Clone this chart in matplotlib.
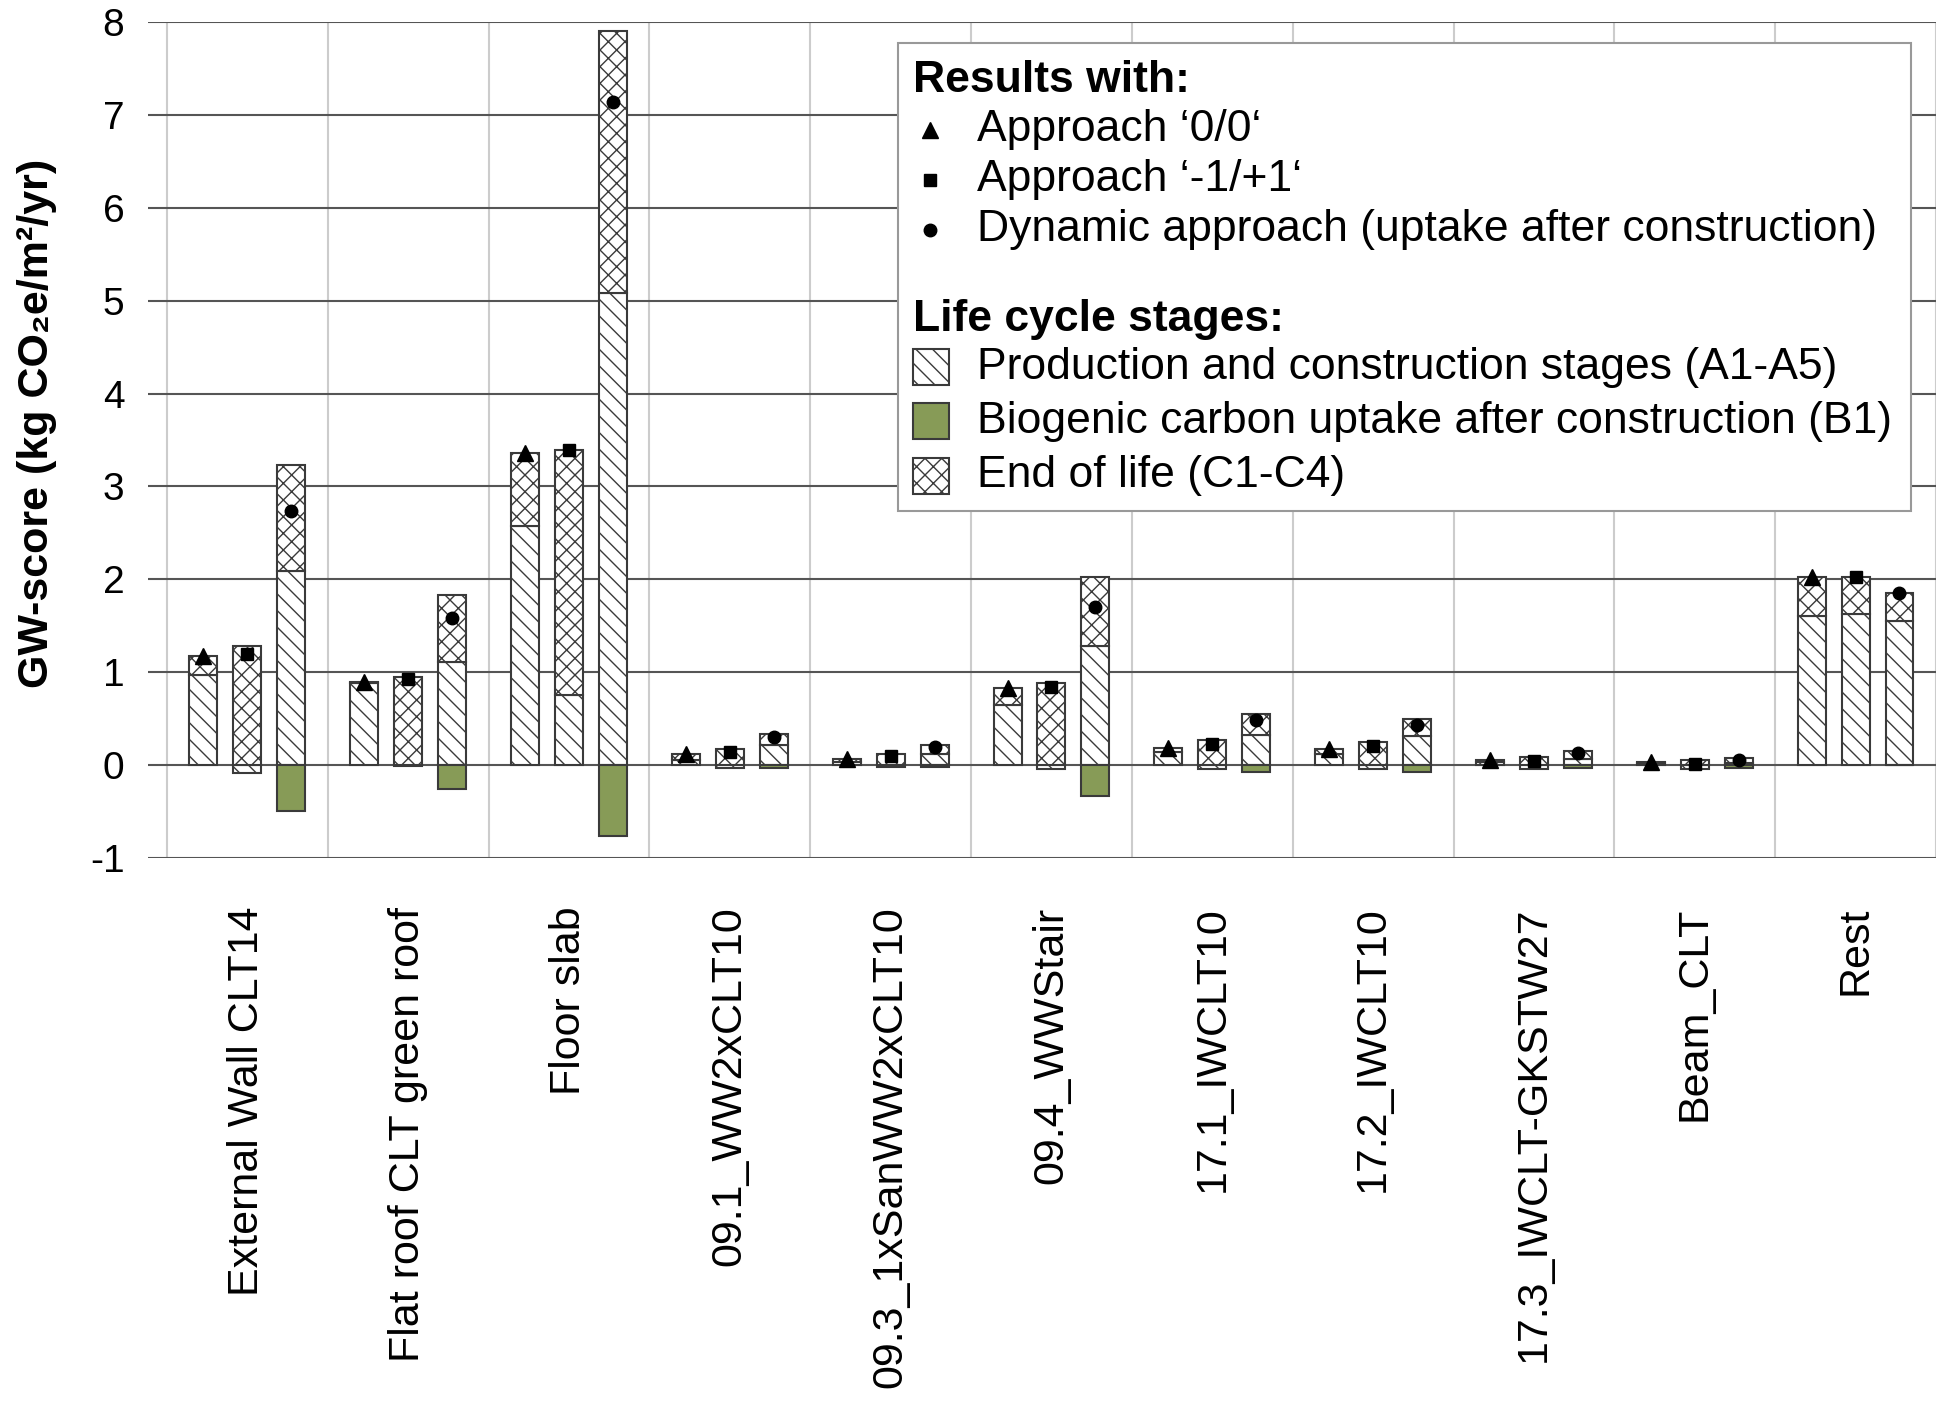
import matplotlib
matplotlib.use('Agg')
import matplotlib.pyplot as plt
import numpy as np
from matplotlib.patches import Rectangle
from matplotlib.lines import Line2D

plt.rcParams['font.family'] = ['Liberation Sans', 'DejaVu Sans']
plt.rcParams['hatch.linewidth'] = 1.0
plt.rcParams['axes.unicode_minus'] = False

categories = ['External Wall CLT14', 'Flat roof CLT green roof', 'Floor slab',
              '09.1_WW2xCLT10', '09.3_1xSanWW2xCLT10', '09.4_WWStair',
              '17.1_IWCLT10', '17.2_IWCLT10', '17.3_IWCLT-GKSTW27',
              'Beam_CLT', 'Rest']

# approach '0/0'
prod_00 = [0.97, 0.88, 2.57, 0.06, 0.03, 0.65, 0.14, 0.12, 0.03, 0.02, 1.60]
eol_00 = [0.20, 0.015, 0.79, 0.06, 0.04, 0.175, 0.047, 0.05, 0.025, 0.016, 0.42]

# approach '-1/+1'
prod_11 = [-0.084, -0.013, 0.76, -0.03, -0.025, -0.047, -0.047, -0.047, -0.047, -0.047, 1.63]
eol_11 = [1.28, 0.945, 2.63, 0.17, 0.12, 0.886, 0.27, 0.25, 0.09, 0.06, 0.39]

# dynamic approach
prod_dyn = [2.09, 1.11, 5.08, 0.215, 0.12, 1.28, 0.32, 0.31, 0.07, 0.025, 1.55]
eol_dyn = [1.14, 0.725, 2.82, 0.125, 0.095, 0.75, 0.235, 0.19, 0.085, 0.054, 0.30]
b1_dyn = [-0.49, -0.256, -0.76, -0.036, -0.025, -0.33, -0.072, -0.072, -0.029, -0.029, 0.0]

EC = '#3a3a3a'
GREEN = '#879b57'
H_PROD = '\\\\'
H_EOL = 'xx'

W, H = 1936, 1411


def fx(px):
    return px / W


def fy(py):
    return 1 - py / H


fig = plt.figure(figsize=(W / 100, H / 100), dpi=100)
ax = fig.add_axes([fx(148), fy(858), fx(1936) - fx(148), fy(22) - fy(858)])

x = np.arange(len(categories))
off = 0.273
bw = 0.174
bar_kw = dict(width=bw, color='white', edgecolor=EC, linewidth=1.5, zorder=3)

p00 = np.array(prod_00)
e00 = np.array(eol_00)
p11 = np.array(prod_11)
e11 = np.array(eol_11)
pd_ = np.array(prod_dyn)
ed = np.array(eol_dyn)
bd = np.array(b1_dyn)

# approach 0/0
ax.bar(x - off, p00, hatch=H_PROD, **bar_kw)
ax.bar(x - off, e00, bottom=p00, hatch=H_EOL, **bar_kw)
# approach -1/+1
ax.bar(x, p11, hatch=H_PROD, **bar_kw)
ax.bar(x, e11, bottom=np.maximum(p11, 0), hatch=H_EOL, **bar_kw)
# dynamic
ax.bar(x + off, pd_, hatch=H_PROD, **bar_kw)
ax.bar(x + off, ed, bottom=pd_, hatch=H_EOL, **bar_kw)
ax.bar(x + off, bd, width=bw, color=GREEN, edgecolor=EC, linewidth=1.5, zorder=3)

MS_TRI, MS_SQ, MS_CIR = 11, 9, 9
ax.plot(x - off, p00 + e00, '^', color='black', ms=MS_TRI, zorder=5, ls='none')
ax.plot(x, p11 + e11, 's', color='black', ms=MS_SQ, zorder=5, ls='none')
ax.plot(x + off, pd_ + ed + bd, 'o', color='black', ms=MS_CIR, zorder=5, ls='none')

ax.set_xlim(-0.618, 10.49)
ax.set_ylim(-1, 8)
ax.set_yticks(range(-1, 9))
ax.set_xticks(x)
ax.set_xticklabels(categories, rotation=90, fontsize=31)
ax.set_xticks(np.arange(-0.5, 10.6, 1), minor=True)
ax.tick_params(axis='y', labelsize=28, length=0, pad=17)
ax.tick_params(axis='x', which='both', length=0, pad=35)
ax.grid(axis='y', color='#555555', lw=1.5)
ax.grid(axis='x', which='minor', color='#cccccc', lw=1.5)
ax.set_axisbelow(True)
for s in ax.spines.values():
    s.set_visible(False)

fig.text(fx(37), fy(423), 'GW-score (kg CO\u2082e/m\u00b2/yr)', rotation=90,
         ha='center', va='center', fontsize=31, fontweight='bold')

# legend box
fig.add_artist(Rectangle((fx(898), fy(511)), fx(1911) - fx(898), fy(43) - fy(511),
                         transform=fig.transFigure, facecolor='white',
                         edgecolor='#999999', lw=1.5, zorder=10))
fs = 32
fig.text(fx(913), fy(80), 'Results with:', fontsize=fs, fontweight='bold',
         va='center', ha='left', zorder=11)
rows = [('^', MS_TRI, 'Approach \u20180/0\u2018', 130),
        ('s', MS_SQ, 'Approach \u2018-1/+1\u2018', 180),
        ('o', MS_CIR, 'Dynamic approach (uptake after construction)', 230)]
for m, ms, lab, yy in rows:
    fig.add_artist(Line2D([fx(930)], [fy(yy)], marker=m, ms=ms, color='black',
                          ls='none', transform=fig.transFigure, zorder=11))
    fig.text(fx(977), fy(yy), lab, fontsize=fs, va='center', ha='left', zorder=11)

fig.text(fx(913), fy(320), 'Life cycle stages:', fontsize=fs, fontweight='bold',
         va='center', ha='left', zorder=11)
stages = [(H_PROD, 'white', 'Production and construction stages (A1-A5)', 367),
          (None, GREEN, 'Biogenic carbon uptake after construction (B1)', 421),
          (H_EOL, 'white', 'End of life (C1-C4)', 476)]
for hatch, fc, lab, yy in stages:
    fig.add_artist(Rectangle((fx(913), fy(yy + 18)), fx(949) - fx(913), fy(yy - 18) - fy(yy + 18),
                             transform=fig.transFigure, facecolor=fc, edgecolor=EC,
                             hatch=hatch, lw=1.5, zorder=11))
    fig.text(fx(977), fy(yy), lab, fontsize=fs, va='center', ha='left', zorder=11)

fig.savefig('out.png', dpi=100, facecolor='white')
